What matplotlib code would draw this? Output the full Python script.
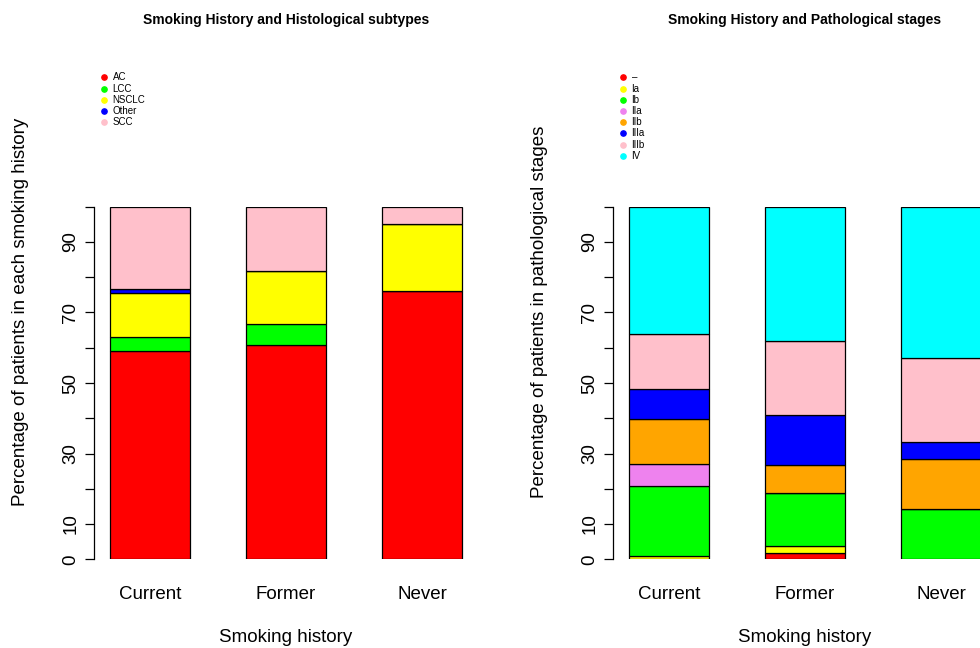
import matplotlib
matplotlib.use("Agg")
import matplotlib.pyplot as plt
from matplotlib.lines import Line2D
import numpy as np

plt.rcParams['font.family'] = ['Liberation Sans', 'DejaVu Sans']

smoking = ["Current", "Former", "Never"]

# Histological subtypes (% of patients in each smoking group)
histo_labels = ["AC", "LCC", "NSCLC", "Other", "SCC"]
histo_colors = ["red", "#00FF00", "yellow", "blue", "pink"]
ac = [59.0, 60.9, 76.2]
lcc = [4.0, 5.9, 0.0]
nsclc = [12.4, 15.1, 18.9]
other = [1.3, 0.0, 0.0]
scc = [23.3, 18.1, 4.9]
histo_values = [ac, lcc, nsclc, other, scc]

# Pathological stages (% of patients in each smoking group)
stage_labels = ["\u2013", "Ia", "Ib", "IIa", "IIb", "IIIa", "IIIb", "IV"]
stage_colors = ["red", "yellow", "#00FF00", "violet", "orange", "blue", "pink", "cyan"]
st_na = [0.0, 1.9, 0.0]
st_ia = [0.94, 1.9, 0.0]
st_ib = [19.9, 15.1, 14.2]
st_iia = [6.3, 0.0, 0.0]
st_iib = [12.7, 7.8, 14.2]
st_iiia = [8.4, 14.2, 4.9]
st_iiib = [15.7, 21.0, 23.7]
st_iv = [36.06, 38.1, 43.0]
stage_values = [st_na, st_ia, st_ib, st_iia, st_iib, st_iiia, st_iiib, st_iv]

W, H = 980, 648
fig = plt.figure(figsize=(W / 100, H / 100), dpi=100)

AX_FS = 13.5


def px_rect(x0, x1, y_top, y_bot):
    return [x0 / W, 1 - y_bot / H, (x1 - x0) / W, (y_bot - y_top) / H]


def stacked_panel(rect, values, colors, title, ylabel, leg_labels, leg_xy):
    ax = fig.add_axes(rect)
    centers = np.array([1.2, 2.9, 4.6])
    bottom = np.zeros(len(centers))
    for vals, col in zip(values, colors):
        vals = np.asarray(vals, dtype=float)
        ax.bar(centers, vals, width=1.0, bottom=bottom, color=col,
               edgecolor="black", linewidth=0.9)
        bottom += vals
    ax.set_xlim(0.524, 5.276)
    ax.set_ylim(0, 100)
    for s in ["top", "right", "bottom"]:
        ax.spines[s].set_visible(False)
    ax.spines["left"].set_bounds(0, 100)
    ax.spines["left"].set_linewidth(0.9)
    ax.spines["left"].set_position(("outward", 1.5))

    ticks = list(range(0, 101, 10))
    labs = [str(t) if t in (0, 10, 30, 50, 70, 90) else "" for t in ticks]
    ax.set_yticks(ticks)
    ax.set_yticklabels(labs, rotation=90, va="center", fontsize=AX_FS)
    ax.tick_params(axis="y", length=6.5, width=0.9, pad=4)

    ax.set_xticks(centers)
    ax.set_xticklabels(smoking, fontsize=AX_FS)
    ax.tick_params(axis="x", length=0, pad=19)

    ax.set_xlabel("Smoking history", fontsize=AX_FS)
    ax.xaxis.set_label_coords(0.5, -(637 - 559.3) / 352.6)
    ax.xaxis.label.set_va("center")
    ax.set_ylabel(ylabel, fontsize=AX_FS)
    ax.yaxis.set_label_coords(-75 / 380, (559.3 - 312) / 352.6)
    ax.yaxis.label.set_va("center")

    cx = rect[0] * W + 190
    fig.text(cx / W, 1 - 20 / H, title, ha="center", va="center",
             fontsize=10, fontweight="bold")

    # legend with small round markers
    lx, ly = leg_xy
    for i, (lab, col) in enumerate(zip(leg_labels, colors)):
        y = ly + i * 11.2
        fig.add_artist(Line2D([lx / W], [1 - y / H], marker="o", markersize=3.8,
                              color=col, linestyle="none",
                              transform=fig.transFigure))
        fig.text((lx + 8.5) / W, 1 - y / H, lab, fontsize=7,
                 ha="left", va="center")
    return ax


stacked_panel(px_rect(96, 476, 206.7, 559.3), histo_values, histo_colors,
              "Smoking History and Histological subtypes",
              "Percentage of patients in each smoking history",
              histo_labels, (104, 77.3))

stacked_panel(px_rect(615, 995, 206.7, 559.3), stage_values, stage_colors,
              "Smoking History and Pathological stages",
              "Percentage of patients in pathological stages",
              stage_labels, (623, 77.3))

fig.savefig("out.png", dpi=100)
